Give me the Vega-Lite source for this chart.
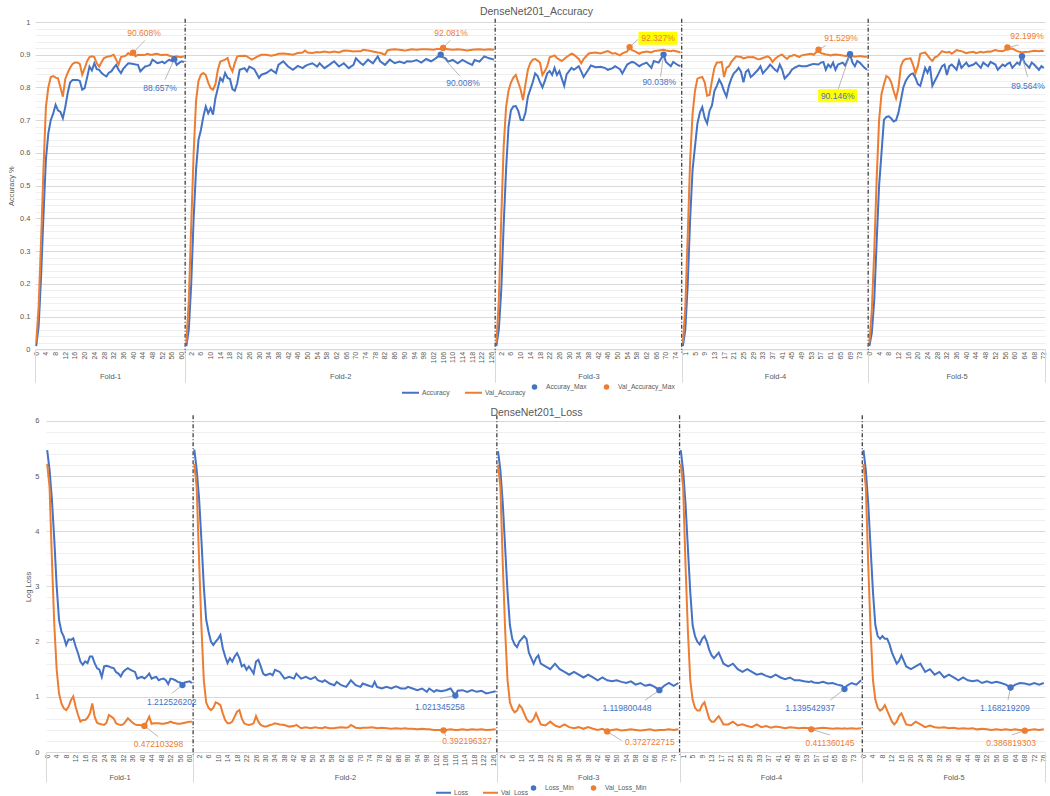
{
"$schema": "https://vega.github.io/schema/vega-lite/v6.json",
"width": 1010, "height": 730,
"autosize": {"type": "none"},
"padding": {"left": 35, "top": 22, "right": 5, "bottom": 44},
"background": "white",
"config": {"view": {"stroke": null}, "font": "Liberation Sans", "axis": {"labelColor": "#595959", "titleColor": "#595959", "titleFontWeight": "normal", "labelFont": "Liberation Sans", "titleFont": "Liberation Sans"}, "text": {"font": "Liberation Sans"}, "legend": {"labelFont": "Liberation Sans", "labelFontSize": 6.7, "labelColor": "#595959", "padding": 0, "title": null}},
"datasets": {
"accBounds": [{"b": 61.5}, {"b": 189.5}, {"b": 266.5}, {"b": 343.5}],
"acc": [
{"f":1,"i":0,"a":0.01,"va":0.02},{"f":1,"i":1,"a":0.07,"va":0.13},{"f":1,"i":2,"a":0.22,"va":0.33},{"f":1,"i":3,"a":0.41,"va":0.55},{"f":1,"i":4,"a":0.58,"va":0.74},{"f":1,"i":5,"a":0.66,"va":0.8},{"f":1,"i":6,"a":0.7,"va":0.832},{"f":1,"i":7,"a":0.72,"va":0.835},{"f":1,"i":8,"a":0.747,"va":0.83},{"f":1,"i":9,"a":0.73,"va":0.828},{"f":1,"i":10,"a":0.725,"va":0.8},{"f":1,"i":11,"a":0.706,"va":0.772},{"f":1,"i":12,"a":0.74,"va":0.826},{"f":1,"i":13,"a":0.783,"va":0.845},{"f":1,"i":14,"a":0.815,"va":0.86},{"f":1,"i":15,"a":0.823,"va":0.872},{"f":1,"i":16,"a":0.823,"va":0.876},{"f":1,"i":17,"a":0.823,"va":0.876},{"f":1,"i":18,"a":0.82,"va":0.872},{"f":1,"i":19,"a":0.793,"va":0.839},{"f":1,"i":20,"a":0.798,"va":0.858},{"f":1,"i":21,"a":0.83,"va":0.88},{"f":1,"i":22,"a":0.864,"va":0.893},{"f":1,"i":23,"a":0.852,"va":0.895},{"f":1,"i":24,"a":0.874,"va":0.893},{"f":1,"i":25,"a":0.856,"va":0.874},{"f":1,"i":26,"a":0.854,"va":0.864},{"f":1,"i":27,"a":0.844,"va":0.878},{"f":1,"i":28,"a":0.838,"va":0.89},{"f":1,"i":29,"a":0.834,"va":0.893},{"f":1,"i":30,"a":0.845,"va":0.895},{"f":1,"i":31,"a":0.849,"va":0.897},{"f":1,"i":32,"a":0.86,"va":0.9},{"f":1,"i":33,"a":0.869,"va":0.885},{"f":1,"i":34,"a":0.854,"va":0.87},{"f":1,"i":35,"a":0.844,"va":0.893},{"f":1,"i":36,"a":0.858,"va":0.895},{"f":1,"i":37,"a":0.866,"va":0.897},{"f":1,"i":38,"a":0.874,"va":0.905},{"f":1,"i":39,"a":0.873,"va":0.9},{"f":1,"i":40,"a":0.872,"va":0.90608},{"f":1,"i":41,"a":0.87,"va":0.895},{"f":1,"i":42,"a":0.869,"va":0.9},{"f":1,"i":43,"a":0.849,"va":0.899},{"f":1,"i":44,"a":0.857,"va":0.899},{"f":1,"i":45,"a":0.864,"va":0.9},{"f":1,"i":46,"a":0.866,"va":0.903},{"f":1,"i":47,"a":0.869,"va":0.9},{"f":1,"i":48,"a":0.885,"va":0.9},{"f":1,"i":49,"a":0.88,"va":0.902},{"f":1,"i":50,"a":0.874,"va":0.903},{"f":1,"i":51,"a":0.876,"va":0.9},{"f":1,"i":52,"a":0.879,"va":0.899},{"f":1,"i":53,"a":0.874,"va":0.9},{"f":1,"i":54,"a":0.88,"va":0.9},{"f":1,"i":55,"a":0.885,"va":0.897},{"f":1,"i":56,"a":0.88,"va":0.895},{"f":1,"i":57,"a":0.88657,"va":0.894},{"f":1,"i":58,"a":0.869,"va":0.895},{"f":1,"i":59,"a":0.875,"va":0.893},{"f":1,"i":60,"a":0.88,"va":0.893},{"f":1,"i":61,"a":0.878,"va":0.895},
{"f":2,"i":62,"a":0.01,"va":0.02},{"f":2,"i":63,"a":0.06,"va":0.15},{"f":2,"i":64,"a":0.2,"va":0.38},{"f":2,"i":65,"a":0.4,"va":0.6},{"f":2,"i":66,"a":0.55,"va":0.76},{"f":2,"i":67,"a":0.64,"va":0.82},{"f":2,"i":68,"a":0.67,"va":0.839},{"f":2,"i":69,"a":0.711,"va":0.844},{"f":2,"i":70,"a":0.742,"va":0.838},{"f":2,"i":71,"a":0.721,"va":0.815},{"f":2,"i":72,"a":0.737,"va":0.798},{"f":2,"i":73,"a":0.717,"va":0.793},{"f":2,"i":74,"a":0.768,"va":0.81},{"f":2,"i":75,"a":0.798,"va":0.854},{"f":2,"i":76,"a":0.829,"va":0.879},{"f":2,"i":77,"a":0.819,"va":0.882},{"f":2,"i":78,"a":0.844,"va":0.885},{"f":2,"i":79,"a":0.829,"va":0.89},{"f":2,"i":80,"a":0.826,"va":0.864},{"f":2,"i":81,"a":0.795,"va":0.849},{"f":2,"i":82,"a":0.79,"va":0.875},{"f":2,"i":83,"a":0.813,"va":0.895},{"f":2,"i":84,"a":0.854,"va":0.896},{"f":2,"i":86,"a":0.859,"va":0.897},{"f":2,"i":87,"a":0.849,"va":0.895},{"f":2,"i":88,"a":0.864,"va":0.89},{"f":2,"i":89,"a":0.86,"va":0.885},{"f":2,"i":90,"a":0.856,"va":0.889},{"f":2,"i":92,"a":0.829,"va":0.897},{"f":2,"i":93,"a":0.839,"va":0.9},{"f":2,"i":95,"a":0.844,"va":0.9},{"f":2,"i":97,"a":0.854,"va":0.897},{"f":2,"i":99,"a":0.844,"va":0.9},{"f":2,"i":100,"a":0.869,"va":0.903},{"f":2,"i":102,"a":0.88,"va":0.904},{"f":2,"i":104,"a":0.864,"va":0.902},{"f":2,"i":106,"a":0.854,"va":0.9},{"f":2,"i":108,"a":0.866,"va":0.905},{"f":2,"i":110,"a":0.859,"va":0.907},{"f":2,"i":111,"a":0.865,"va":0.913},{"f":2,"i":112,"a":0.869,"va":0.907},{"f":2,"i":114,"a":0.874,"va":0.905},{"f":2,"i":116,"a":0.864,"va":0.908},{"f":2,"i":117,"a":0.874,"va":0.907},{"f":2,"i":119,"a":0.859,"va":0.91},{"f":2,"i":121,"a":0.869,"va":0.907},{"f":2,"i":123,"a":0.88,"va":0.91},{"f":2,"i":125,"a":0.864,"va":0.907},{"f":2,"i":127,"a":0.874,"va":0.913},{"f":2,"i":129,"a":0.859,"va":0.912},{"f":2,"i":131,"a":0.869,"va":0.91},{"f":2,"i":132,"a":0.889,"va":0.911},{"f":2,"i":134,"a":0.874,"va":0.911},{"f":2,"i":135,"a":0.869,"va":0.915},{"f":2,"i":137,"a":0.885,"va":0.913},{"f":2,"i":139,"a":0.874,"va":0.91},{"f":2,"i":141,"a":0.895,"va":0.907},{"f":2,"i":142,"a":0.88,"va":0.906},{"f":2,"i":144,"a":0.869,"va":0.9},{"f":2,"i":145,"a":0.877,"va":0.913},{"f":2,"i":146,"a":0.885,"va":0.915},{"f":2,"i":148,"a":0.874,"va":0.917},{"f":2,"i":150,"a":0.879,"va":0.915},{"f":2,"i":152,"a":0.874,"va":0.913},{"f":2,"i":153,"a":0.88,"va":0.914},{"f":2,"i":155,"a":0.879,"va":0.917},{"f":2,"i":157,"a":0.884,"va":0.915},{"f":2,"i":159,"a":0.876,"va":0.917},{"f":2,"i":161,"a":0.887,"va":0.917},{"f":2,"i":163,"a":0.88,"va":0.916},{"f":2,"i":164,"a":0.884,"va":0.915},{"f":2,"i":166,"a":0.895,"va":0.918},{"f":2,"i":167,"a":0.90008,"va":0.917},{"f":2,"i":168,"a":0.892,"va":0.92081},{"f":2,"i":169,"a":0.889,"va":0.918},{"f":2,"i":170,"a":0.879,"va":0.917},{"f":2,"i":172,"a":0.884,"va":0.915},{"f":2,"i":174,"a":0.874,"va":0.917},{"f":2,"i":176,"a":0.884,"va":0.915},{"f":2,"i":178,"a":0.876,"va":0.913},{"f":2,"i":180,"a":0.869,"va":0.915},{"f":2,"i":181,"a":0.884,"va":0.916},{"f":2,"i":183,"a":0.879,"va":0.917},{"f":2,"i":185,"a":0.895,"va":0.915},{"f":2,"i":187,"a":0.889,"va":0.917},{"f":2,"i":189,"a":0.885,"va":0.915},
{"f":3,"i":190,"a":0.01,"va":0.02},{"f":3,"i":191,"a":0.06,"va":0.15},{"f":3,"i":192,"a":0.18,"va":0.4},{"f":3,"i":193,"a":0.38,"va":0.62},{"f":3,"i":194,"a":0.55,"va":0.74},{"f":3,"i":195,"a":0.68,"va":0.79},{"f":3,"i":196,"a":0.73,"va":0.815},{"f":3,"i":197,"a":0.742,"va":0.83},{"f":3,"i":198,"a":0.743,"va":0.838},{"f":3,"i":199,"a":0.729,"va":0.816},{"f":3,"i":200,"a":0.701,"va":0.794},{"f":3,"i":201,"a":0.7,"va":0.761},{"f":3,"i":202,"a":0.723,"va":0.81},{"f":3,"i":203,"a":0.772,"va":0.854},{"f":3,"i":204,"a":0.794,"va":0.875},{"f":3,"i":205,"a":0.816,"va":0.885},{"f":3,"i":206,"a":0.843,"va":0.887},{"f":3,"i":207,"a":0.835,"va":0.882},{"f":3,"i":208,"a":0.816,"va":0.876},{"f":3,"i":209,"a":0.8,"va":0.838},{"f":3,"i":210,"a":0.82,"va":0.85},{"f":3,"i":211,"a":0.843,"va":0.865},{"f":3,"i":212,"a":0.85,"va":0.892},{"f":3,"i":213,"a":0.838,"va":0.895},{"f":3,"i":214,"a":0.86,"va":0.898},{"f":3,"i":215,"a":0.838,"va":0.89},{"f":3,"i":216,"a":0.85,"va":0.885},{"f":3,"i":217,"a":0.827,"va":0.881},{"f":3,"i":218,"a":0.805,"va":0.887},{"f":3,"i":219,"a":0.84,"va":0.893},{"f":3,"i":221,"a":0.86,"va":0.903},{"f":3,"i":222,"a":0.854,"va":0.9},{"f":3,"i":224,"a":0.865,"va":0.887},{"f":3,"i":225,"a":0.849,"va":0.874},{"f":3,"i":226,"a":0.832,"va":0.887},{"f":3,"i":228,"a":0.855,"va":0.903},{"f":3,"i":229,"a":0.867,"va":0.905},{"f":3,"i":231,"a":0.862,"va":0.907},{"f":3,"i":233,"a":0.863,"va":0.904},{"f":3,"i":235,"a":0.859,"va":0.909},{"f":3,"i":236,"a":0.854,"va":0.911},{"f":3,"i":238,"a":0.859,"va":0.903},{"f":3,"i":239,"a":0.865,"va":0.905},{"f":3,"i":241,"a":0.856,"va":0.898},{"f":3,"i":242,"a":0.843,"va":0.904},{"f":3,"i":244,"a":0.87,"va":0.91},{"f":3,"i":245,"a":0.874,"va":0.92327},{"f":3,"i":246,"a":0.878,"va":0.914},{"f":3,"i":247,"a":0.876,"va":0.911},{"f":3,"i":249,"a":0.865,"va":0.903},{"f":3,"i":250,"a":0.87,"va":0.907},{"f":3,"i":252,"a":0.876,"va":0.91},{"f":3,"i":254,"a":0.86,"va":0.907},{"f":3,"i":255,"a":0.881,"va":0.911},{"f":3,"i":257,"a":0.876,"va":0.913},{"f":3,"i":259,"a":0.90038,"va":0.915},{"f":3,"i":260,"a":0.878,"va":0.913},{"f":3,"i":262,"a":0.865,"va":0.911},{"f":3,"i":263,"a":0.878,"va":0.913},{"f":3,"i":265,"a":0.868,"va":0.909},{"f":3,"i":266,"a":0.865,"va":0.907},
{"f":4,"i":267,"a":0.01,"va":0.02},{"f":4,"i":268,"a":0.06,"va":0.13},{"f":4,"i":269,"a":0.2,"va":0.35},{"f":4,"i":270,"a":0.4,"va":0.58},{"f":4,"i":271,"a":0.55,"va":0.72},{"f":4,"i":272,"a":0.62,"va":0.79},{"f":4,"i":273,"a":0.69,"va":0.827},{"f":4,"i":274,"a":0.723,"va":0.83},{"f":4,"i":275,"a":0.74,"va":0.832},{"f":4,"i":276,"a":0.707,"va":0.816},{"f":4,"i":277,"a":0.69,"va":0.775},{"f":4,"i":278,"a":0.729,"va":0.777},{"f":4,"i":279,"a":0.745,"va":0.821},{"f":4,"i":280,"a":0.789,"va":0.86},{"f":4,"i":281,"a":0.805,"va":0.876},{"f":4,"i":282,"a":0.824,"va":0.876},{"f":4,"i":283,"a":0.81,"va":0.878},{"f":4,"i":284,"a":0.789,"va":0.832},{"f":4,"i":285,"a":0.772,"va":0.86},{"f":4,"i":286,"a":0.805,"va":0.865},{"f":4,"i":287,"a":0.827,"va":0.878},{"f":4,"i":288,"a":0.843,"va":0.887},{"f":4,"i":289,"a":0.85,"va":0.895},{"f":4,"i":290,"a":0.86,"va":0.894},{"f":4,"i":291,"a":0.848,"va":0.893},{"f":4,"i":292,"a":0.816,"va":0.889},{"f":4,"i":293,"a":0.848,"va":0.891},{"f":4,"i":294,"a":0.854,"va":0.893},{"f":4,"i":295,"a":0.832,"va":0.892},{"f":4,"i":296,"a":0.838,"va":0.893},{"f":4,"i":298,"a":0.854,"va":0.886},{"f":4,"i":299,"a":0.865,"va":0.887},{"f":4,"i":300,"a":0.843,"va":0.89},{"f":4,"i":302,"a":0.86,"va":0.895},{"f":4,"i":303,"a":0.87,"va":0.89},{"f":4,"i":304,"a":0.862,"va":0.878},{"f":4,"i":305,"a":0.854,"va":0.887},{"f":4,"i":306,"a":0.849,"va":0.893},{"f":4,"i":307,"a":0.87,"va":0.898},{"f":4,"i":308,"a":0.854,"va":0.9},{"f":4,"i":309,"a":0.827,"va":0.893},{"f":4,"i":310,"a":0.835,"va":0.887},{"f":4,"i":311,"a":0.843,"va":0.895},{"f":4,"i":312,"a":0.854,"va":0.897},{"f":4,"i":313,"a":0.86,"va":0.9},{"f":4,"i":315,"a":0.867,"va":0.893},{"f":4,"i":316,"a":0.865,"va":0.898},{"f":4,"i":318,"a":0.865,"va":0.901},{"f":4,"i":320,"a":0.87,"va":0.903},{"f":4,"i":321,"a":0.872,"va":0.9},{"f":4,"i":323,"a":0.87,"va":0.91529},{"f":4,"i":324,"a":0.876,"va":0.905},{"f":4,"i":325,"a":0.878,"va":0.903},{"f":4,"i":326,"a":0.854,"va":0.901},{"f":4,"i":327,"a":0.87,"va":0.9},{"f":4,"i":328,"a":0.862,"va":0.898},{"f":4,"i":329,"a":0.876,"va":0.9},{"f":4,"i":330,"a":0.854,"va":0.901},{"f":4,"i":331,"a":0.87,"va":0.9},{"f":4,"i":333,"a":0.876,"va":0.898},{"f":4,"i":334,"a":0.867,"va":0.896},{"f":4,"i":336,"a":0.90146,"va":0.898},{"f":4,"i":337,"a":0.876,"va":0.896},{"f":4,"i":338,"a":0.865,"va":0.894},{"f":4,"i":339,"a":0.881,"va":0.895},{"f":4,"i":340,"a":0.876,"va":0.896},{"f":4,"i":342,"a":0.86,"va":0.894},{"f":4,"i":343,"a":0.854,"va":0.894},
{"f":5,"i":344,"a":0.01,"va":0.02},{"f":5,"i":345,"a":0.05,"va":0.12},{"f":5,"i":346,"a":0.15,"va":0.3},{"f":5,"i":347,"a":0.33,"va":0.52},{"f":5,"i":348,"a":0.5,"va":0.7},{"f":5,"i":349,"a":0.6,"va":0.78},{"f":5,"i":350,"a":0.701,"va":0.81},{"f":5,"i":351,"a":0.71,"va":0.835},{"f":5,"i":352,"a":0.712,"va":0.83},{"f":5,"i":353,"a":0.705,"va":0.816},{"f":5,"i":354,"a":0.696,"va":0.789},{"f":5,"i":355,"a":0.7,"va":0.767},{"f":5,"i":356,"a":0.723,"va":0.8},{"f":5,"i":357,"a":0.761,"va":0.865},{"f":5,"i":358,"a":0.8,"va":0.882},{"f":5,"i":359,"a":0.82,"va":0.887},{"f":5,"i":360,"a":0.832,"va":0.888},{"f":5,"i":361,"a":0.84,"va":0.889},{"f":5,"i":362,"a":0.843,"va":0.87},{"f":5,"i":363,"a":0.83,"va":0.843},{"f":5,"i":364,"a":0.81,"va":0.865},{"f":5,"i":365,"a":0.805,"va":0.903},{"f":5,"i":366,"a":0.832,"va":0.905},{"f":5,"i":367,"a":0.86,"va":0.907},{"f":5,"i":368,"a":0.845,"va":0.898},{"f":5,"i":369,"a":0.865,"va":0.888},{"f":5,"i":370,"a":0.805,"va":0.881},{"f":5,"i":371,"a":0.82,"va":0.892},{"f":5,"i":372,"a":0.834,"va":0.895},{"f":5,"i":374,"a":0.865,"va":0.911},{"f":5,"i":375,"a":0.87,"va":0.908},{"f":5,"i":376,"a":0.838,"va":0.907},{"f":5,"i":377,"a":0.865,"va":0.909},{"f":5,"i":378,"a":0.87,"va":0.903},{"f":5,"i":380,"a":0.854,"va":0.914},{"f":5,"i":381,"a":0.881,"va":0.912},{"f":5,"i":382,"a":0.86,"va":0.911},{"f":5,"i":384,"a":0.876,"va":0.905},{"f":5,"i":385,"a":0.865,"va":0.907},{"f":5,"i":387,"a":0.87,"va":0.909},{"f":5,"i":388,"a":0.876,"va":0.905},{"f":5,"i":390,"a":0.86,"va":0.909},{"f":5,"i":391,"a":0.876,"va":0.907},{"f":5,"i":393,"a":0.865,"va":0.91},{"f":5,"i":394,"a":0.878,"va":0.909},{"f":5,"i":396,"a":0.87,"va":0.914},{"f":5,"i":397,"a":0.854,"va":0.912},{"f":5,"i":399,"a":0.87,"va":0.911},{"f":5,"i":400,"a":0.865,"va":0.914},{"f":5,"i":401,"a":0.872,"va":0.92199},{"f":5,"i":402,"a":0.876,"va":0.918},{"f":5,"i":403,"a":0.86,"va":0.919},{"f":5,"i":405,"a":0.876,"va":0.911},{"f":5,"i":406,"a":0.87,"va":0.909},{"f":5,"i":407,"a":0.89564,"va":0.907},{"f":5,"i":408,"a":0.876,"va":0.908},{"f":5,"i":410,"a":0.86,"va":0.909},{"f":5,"i":411,"a":0.876,"va":0.911},{"f":5,"i":412,"a":0.87,"va":0.912},{"f":5,"i":414,"a":0.854,"va":0.911},{"f":5,"i":415,"a":0.865,"va":0.912},{"f":5,"i":416,"a":0.86,"va":0.911}
],
"accMax": [
{"i":40,"v":0.90608,"s":"Val_Accuracy_Max","t":"90.608%","li":44.5,"lv":0.967,"ei":44.9,"ev":0.944},
{"i":57,"v":0.88657,"s":"Accuray_Max","t":"88.657%","li":51.1,"lv":0.799,"ei":53.2,"ev":0.824},
{"i":168,"v":0.92081,"s":"Val_Accuracy_Max","t":"92.081%","li":171.3,"lv":0.967,"ei":170.9,"ev":0.944},
{"i":167,"v":0.90008,"s":"Accuray_Max","t":"90.008%","li":176.2,"lv":0.815,"ei":175,"ev":0.834},
{"i":245,"v":0.92327,"s":"Val_Accuracy_Max","t":"92.327%","li":256.7,"lv":0.95,"ei":248.5,"ev":0.947},
{"i":259,"v":0.90038,"s":"Accuray_Max","t":"90.038%","li":257.2,"lv":0.816,"ei":257.8,"ev":0.833},
{"i":323,"v":0.91529,"s":"Val_Accuracy_Max","t":"91.529%","li":332.3,"lv":0.95,"ei":326,"ev":0.928},
{"i":336,"v":0.90146,"s":"Accuray_Max","t":"90.146%","li":330.9,"lv":0.775,"ei":331.1,"ev":0.794},
{"i":401,"v":0.92199,"s":"Val_Accuracy_Max","t":"92.199%","li":409.1,"lv":0.958,"ei":405.6,"ev":0.93},
{"i":407,"v":0.89564,"s":"Accuray_Max","t":"89.564%","li":409.5,"lv":0.803,"ei":409.3,"ev":0.833}
],
"lossBounds": [{"b": 61.5}, {"b": 189.5}, {"b": 266.5}, {"b": 343.5}],
"loss": [
{"f":1,"i":0,"l":5.47,"vl":5.22},{"f":1,"i":1,"l":5.11,"vl":4.8},{"f":1,"i":2,"l":4.57,"vl":3.48},{"f":1,"i":3,"l":3.84,"vl":2.3},{"f":1,"i":4,"l":3.0,"vl":1.49},{"f":1,"i":5,"l":2.39,"vl":1.06},{"f":1,"i":6,"l":2.18,"vl":0.88},{"f":1,"i":7,"l":2.09,"vl":0.79},{"f":1,"i":8,"l":1.94,"vl":0.76},{"f":1,"i":9,"l":2.04,"vl":0.82},{"f":1,"i":10,"l":2.03,"vl":0.94},{"f":1,"i":11,"l":2.06,"vl":1.01},{"f":1,"i":12,"l":1.91,"vl":0.82},{"f":1,"i":13,"l":1.79,"vl":0.67},{"f":1,"i":14,"l":1.64,"vl":0.55},{"f":1,"i":15,"l":1.58,"vl":0.58},{"f":1,"i":16,"l":1.64,"vl":0.58},{"f":1,"i":17,"l":1.61,"vl":0.62},{"f":1,"i":18,"l":1.73,"vl":0.7},{"f":1,"i":19,"l":1.73,"vl":0.88},{"f":1,"i":20,"l":1.61,"vl":0.64},{"f":1,"i":21,"l":1.52,"vl":0.53},{"f":1,"i":22,"l":1.49,"vl":0.51},{"f":1,"i":23,"l":1.36,"vl":0.5},{"f":1,"i":24,"l":1.55,"vl":0.49},{"f":1,"i":25,"l":1.56,"vl":0.53},{"f":1,"i":26,"l":1.55,"vl":0.67},{"f":1,"i":27,"l":1.53,"vl":0.64},{"f":1,"i":28,"l":1.52,"vl":0.61},{"f":1,"i":29,"l":1.45,"vl":0.52},{"f":1,"i":30,"l":1.42,"vl":0.5},{"f":1,"i":31,"l":1.37,"vl":0.49},{"f":1,"i":32,"l":1.45,"vl":0.5},{"f":1,"i":33,"l":1.49,"vl":0.55},{"f":1,"i":34,"l":1.52,"vl":0.61},{"f":1,"i":35,"l":1.49,"vl":0.57},{"f":1,"i":36,"l":1.47,"vl":0.53},{"f":1,"i":37,"l":1.45,"vl":0.5},{"f":1,"i":38,"l":1.33,"vl":0.49},{"f":1,"i":39,"l":1.35,"vl":0.49},{"f":1,"i":40,"l":1.36,"vl":0.48},{"f":1,"i":41,"l":1.33,"vl":0.472103298},{"f":1,"i":42,"l":1.37,"vl":0.55},{"f":1,"i":43,"l":1.42,"vl":0.64},{"f":1,"i":44,"l":1.33,"vl":0.51},{"f":1,"i":45,"l":1.35,"vl":0.52},{"f":1,"i":46,"l":1.36,"vl":0.52},{"f":1,"i":47,"l":1.3,"vl":0.52},{"f":1,"i":48,"l":1.32,"vl":0.51},{"f":1,"i":49,"l":1.33,"vl":0.51},{"f":1,"i":50,"l":1.3,"vl":0.52},{"f":1,"i":51,"l":1.23,"vl":0.53},{"f":1,"i":52,"l":1.33,"vl":0.55},{"f":1,"i":53,"l":1.32,"vl":0.53},{"f":1,"i":54,"l":1.3,"vl":0.52},{"f":1,"i":55,"l":1.27,"vl":0.51},{"f":1,"i":56,"l":1.26,"vl":0.51},{"f":1,"i":57,"l":1.212526202,"vl":0.52},{"f":1,"i":58,"l":1.26,"vl":0.53},{"f":1,"i":59,"l":1.27,"vl":0.54},{"f":1,"i":60,"l":1.28,"vl":0.55},{"f":1,"i":61,"l":1.25,"vl":0.55},
{"f":2,"i":62,"l":5.48,"vl":5.22},{"f":2,"i":63,"l":5.11,"vl":4.8},{"f":2,"i":64,"l":4.6,"vl":3.5},{"f":2,"i":65,"l":3.84,"vl":2.27},{"f":2,"i":66,"l":3.0,"vl":1.3},{"f":2,"i":67,"l":2.4,"vl":0.9},{"f":2,"i":68,"l":2.18,"vl":0.8},{"f":2,"i":69,"l":2.0,"vl":0.76},{"f":2,"i":70,"l":1.94,"vl":0.8},{"f":2,"i":71,"l":2.0,"vl":0.9},{"f":2,"i":72,"l":2.05,"vl":0.88},{"f":2,"i":73,"l":2.12,"vl":0.85},{"f":2,"i":74,"l":1.88,"vl":0.7},{"f":2,"i":75,"l":1.73,"vl":0.58},{"f":2,"i":76,"l":1.61,"vl":0.52},{"f":2,"i":77,"l":1.7,"vl":0.52},{"f":2,"i":78,"l":1.64,"vl":0.55},{"f":2,"i":79,"l":1.73,"vl":0.64},{"f":2,"i":80,"l":1.79,"vl":0.73},{"f":2,"i":81,"l":1.7,"vl":0.76},{"f":2,"i":82,"l":1.55,"vl":0.61},{"f":2,"i":83,"l":1.58,"vl":0.52},{"f":2,"i":84,"l":1.49,"vl":0.5},{"f":2,"i":85,"l":1.55,"vl":0.49},{"f":2,"i":86,"l":1.49,"vl":0.5},{"f":2,"i":87,"l":1.42,"vl":0.52},{"f":2,"i":88,"l":1.64,"vl":0.65},{"f":2,"i":89,"l":1.67,"vl":0.55},{"f":2,"i":90,"l":1.55,"vl":0.49},{"f":2,"i":91,"l":1.42,"vl":0.47},{"f":2,"i":92,"l":1.39,"vl":0.46},{"f":2,"i":94,"l":1.42,"vl":0.49},{"f":2,"i":95,"l":1.39,"vl":0.5},{"f":2,"i":96,"l":1.49,"vl":0.52},{"f":2,"i":98,"l":1.45,"vl":0.5},{"f":2,"i":100,"l":1.33,"vl":0.49},{"f":2,"i":102,"l":1.36,"vl":0.46},{"f":2,"i":104,"l":1.33,"vl":0.47},{"f":2,"i":105,"l":1.42,"vl":0.49},{"f":2,"i":107,"l":1.33,"vl":0.43},{"f":2,"i":109,"l":1.36,"vl":0.45},{"f":2,"i":111,"l":1.32,"vl":0.43},{"f":2,"i":113,"l":1.36,"vl":0.45},{"f":2,"i":114,"l":1.3,"vl":0.44},{"f":2,"i":116,"l":1.27,"vl":0.43},{"f":2,"i":117,"l":1.3,"vl":0.45},{"f":2,"i":119,"l":1.24,"vl":0.43},{"f":2,"i":121,"l":1.21,"vl":0.43},{"f":2,"i":122,"l":1.27,"vl":0.44},{"f":2,"i":124,"l":1.21,"vl":0.45},{"f":2,"i":126,"l":1.18,"vl":0.44},{"f":2,"i":127,"l":1.24,"vl":0.45},{"f":2,"i":128,"l":1.3,"vl":0.49},{"f":2,"i":130,"l":1.21,"vl":0.44},{"f":2,"i":132,"l":1.18,"vl":0.43},{"f":2,"i":133,"l":1.24,"vl":0.44},{"f":2,"i":135,"l":1.21,"vl":0.44},{"f":2,"i":137,"l":1.18,"vl":0.45},{"f":2,"i":138,"l":1.27,"vl":0.44},{"f":2,"i":139,"l":1.18,"vl":0.43},{"f":2,"i":141,"l":1.15,"vl":0.44},{"f":2,"i":143,"l":1.18,"vl":0.43},{"f":2,"i":145,"l":1.15,"vl":0.42},{"f":2,"i":147,"l":1.19,"vl":0.43},{"f":2,"i":149,"l":1.15,"vl":0.42},{"f":2,"i":151,"l":1.15,"vl":0.43},{"f":2,"i":152,"l":1.18,"vl":0.42},{"f":2,"i":154,"l":1.15,"vl":0.42},{"f":2,"i":156,"l":1.12,"vl":0.41},{"f":2,"i":158,"l":1.15,"vl":0.42},{"f":2,"i":160,"l":1.09,"vl":0.41},{"f":2,"i":161,"l":1.15,"vl":0.41},{"f":2,"i":163,"l":1.09,"vl":0.4},{"f":2,"i":164,"l":1.12,"vl":0.4},{"f":2,"i":166,"l":1.1,"vl":0.4},{"f":2,"i":167,"l":1.11,"vl":0.392196327},{"f":2,"i":168,"l":1.12,"vl":0.4},{"f":2,"i":170,"l":1.15,"vl":0.41},{"f":2,"i":172,"l":1.021345258,"vl":0.4},{"f":2,"i":173,"l":1.11,"vl":0.4},{"f":2,"i":175,"l":1.12,"vl":0.41},{"f":2,"i":177,"l":1.09,"vl":0.4},{"f":2,"i":179,"l":1.12,"vl":0.41},{"f":2,"i":181,"l":1.09,"vl":0.405},{"f":2,"i":183,"l":1.11,"vl":0.41},{"f":2,"i":185,"l":1.06,"vl":0.4},{"f":2,"i":187,"l":1.08,"vl":0.405},{"f":2,"i":189,"l":1.1,"vl":0.41},
{"f":3,"i":190,"l":5.45,"vl":5.2},{"f":3,"i":191,"l":5.1,"vl":4.8},{"f":3,"i":192,"l":4.5,"vl":3.4},{"f":3,"i":193,"l":3.7,"vl":2.2},{"f":3,"i":194,"l":2.9,"vl":1.3},{"f":3,"i":195,"l":2.3,"vl":0.9},{"f":3,"i":196,"l":2.05,"vl":0.78},{"f":3,"i":197,"l":1.95,"vl":0.72},{"f":3,"i":198,"l":1.9,"vl":0.75},{"f":3,"i":199,"l":2.0,"vl":0.85},{"f":3,"i":200,"l":2.05,"vl":0.8},{"f":3,"i":201,"l":2.1,"vl":0.7},{"f":3,"i":202,"l":2.05,"vl":0.6},{"f":3,"i":203,"l":1.8,"vl":0.55},{"f":3,"i":204,"l":1.7,"vl":0.55},{"f":3,"i":205,"l":1.6,"vl":0.6},{"f":3,"i":206,"l":1.7,"vl":0.7},{"f":3,"i":207,"l":1.75,"vl":0.6},{"f":3,"i":208,"l":1.6,"vl":0.5},{"f":3,"i":210,"l":1.55,"vl":0.48},{"f":3,"i":212,"l":1.5,"vl":0.55},{"f":3,"i":214,"l":1.6,"vl":0.48},{"f":3,"i":216,"l":1.5,"vl":0.45},{"f":3,"i":218,"l":1.45,"vl":0.5},{"f":3,"i":220,"l":1.4,"vl":0.45},{"f":3,"i":222,"l":1.45,"vl":0.43},{"f":3,"i":224,"l":1.4,"vl":0.45},{"f":3,"i":226,"l":1.35,"vl":0.42},{"f":3,"i":228,"l":1.4,"vl":0.45},{"f":3,"i":230,"l":1.35,"vl":0.42},{"f":3,"i":232,"l":1.3,"vl":0.4},{"f":3,"i":234,"l":1.35,"vl":0.42},{"f":3,"i":236,"l":1.3,"vl":0.372722715},{"f":3,"i":238,"l":1.28,"vl":0.4},{"f":3,"i":240,"l":1.3,"vl":0.41},{"f":3,"i":242,"l":1.27,"vl":0.39},{"f":3,"i":244,"l":1.25,"vl":0.4},{"f":3,"i":246,"l":1.28,"vl":0.41},{"f":3,"i":248,"l":1.22,"vl":0.4},{"f":3,"i":250,"l":1.25,"vl":0.39},{"f":3,"i":252,"l":1.2,"vl":0.4},{"f":3,"i":254,"l":1.22,"vl":0.41},{"f":3,"i":256,"l":1.18,"vl":0.39},{"f":3,"i":258,"l":1.119800448,"vl":0.4},{"f":3,"i":260,"l":1.2,"vl":0.4},{"f":3,"i":262,"l":1.25,"vl":0.41},{"f":3,"i":264,"l":1.2,"vl":0.4},{"f":3,"i":266,"l":1.25,"vl":0.41},
{"f":4,"i":267,"l":5.47,"vl":5.22},{"f":4,"i":268,"l":5.1,"vl":4.8},{"f":4,"i":269,"l":4.5,"vl":3.4},{"f":4,"i":270,"l":3.7,"vl":2.2},{"f":4,"i":271,"l":2.9,"vl":1.3},{"f":4,"i":272,"l":2.3,"vl":0.95},{"f":4,"i":273,"l":2.1,"vl":0.8},{"f":4,"i":274,"l":2.0,"vl":0.75},{"f":4,"i":275,"l":1.95,"vl":0.75},{"f":4,"i":276,"l":2.05,"vl":0.85},{"f":4,"i":277,"l":2.1,"vl":0.9},{"f":4,"i":278,"l":2.0,"vl":0.75},{"f":4,"i":279,"l":1.85,"vl":0.6},{"f":4,"i":280,"l":1.75,"vl":0.55},{"f":4,"i":281,"l":1.7,"vl":0.55},{"f":4,"i":282,"l":1.75,"vl":0.6},{"f":4,"i":283,"l":1.8,"vl":0.65},{"f":4,"i":284,"l":1.7,"vl":0.58},{"f":4,"i":285,"l":1.6,"vl":0.5},{"f":4,"i":287,"l":1.55,"vl":0.5},{"f":4,"i":289,"l":1.6,"vl":0.55},{"f":4,"i":291,"l":1.5,"vl":0.48},{"f":4,"i":293,"l":1.45,"vl":0.5},{"f":4,"i":295,"l":1.5,"vl":0.47},{"f":4,"i":297,"l":1.45,"vl":0.45},{"f":4,"i":299,"l":1.4,"vl":0.5},{"f":4,"i":301,"l":1.42,"vl":0.45},{"f":4,"i":303,"l":1.38,"vl":0.47},{"f":4,"i":305,"l":1.35,"vl":0.44},{"f":4,"i":307,"l":1.4,"vl":0.46},{"f":4,"i":309,"l":1.35,"vl":0.45},{"f":4,"i":311,"l":1.32,"vl":0.43},{"f":4,"i":313,"l":1.35,"vl":0.45},{"f":4,"i":315,"l":1.3,"vl":0.44},{"f":4,"i":317,"l":1.3,"vl":0.43},{"f":4,"i":319,"l":1.28,"vl":0.44},{"f":4,"i":321,"l":1.27,"vl":0.43},{"f":4,"i":322,"l":1.28,"vl":0.411360145},{"f":4,"i":323,"l":1.26,"vl":0.42},{"f":4,"i":325,"l":1.25,"vl":0.43},{"f":4,"i":327,"l":1.27,"vl":0.44},{"f":4,"i":329,"l":1.24,"vl":0.43},{"f":4,"i":331,"l":1.25,"vl":0.42},{"f":4,"i":333,"l":1.22,"vl":0.43},{"f":4,"i":335,"l":1.2,"vl":0.42},{"f":4,"i":336,"l":1.139542937,"vl":0.43},{"f":4,"i":337,"l":1.2,"vl":0.42},{"f":4,"i":339,"l":1.25,"vl":0.43},{"f":4,"i":341,"l":1.22,"vl":0.42},{"f":4,"i":343,"l":1.3,"vl":0.43},
{"f":5,"i":344,"l":5.47,"vl":5.22},{"f":5,"i":345,"l":5.1,"vl":4.8},{"f":5,"i":346,"l":4.5,"vl":3.4},{"f":5,"i":347,"l":3.7,"vl":2.2},{"f":5,"i":348,"l":2.9,"vl":1.3},{"f":5,"i":349,"l":2.3,"vl":0.95},{"f":5,"i":350,"l":2.1,"vl":0.8},{"f":5,"i":351,"l":2.05,"vl":0.75},{"f":5,"i":352,"l":2.1,"vl":0.78},{"f":5,"i":353,"l":2.05,"vl":0.85},{"f":5,"i":354,"l":2.05,"vl":0.75},{"f":5,"i":355,"l":1.95,"vl":0.65},{"f":5,"i":356,"l":1.8,"vl":0.55},{"f":5,"i":357,"l":1.7,"vl":0.5},{"f":5,"i":358,"l":1.6,"vl":0.55},{"f":5,"i":359,"l":1.65,"vl":0.65},{"f":5,"i":360,"l":1.75,"vl":0.7},{"f":5,"i":361,"l":1.65,"vl":0.6},{"f":5,"i":362,"l":1.55,"vl":0.5},{"f":5,"i":364,"l":1.5,"vl":0.48},{"f":5,"i":366,"l":1.55,"vl":0.55},{"f":5,"i":368,"l":1.6,"vl":0.5},{"f":5,"i":370,"l":1.45,"vl":0.45},{"f":5,"i":372,"l":1.5,"vl":0.48},{"f":5,"i":374,"l":1.4,"vl":0.45},{"f":5,"i":376,"l":1.45,"vl":0.44},{"f":5,"i":378,"l":1.35,"vl":0.45},{"f":5,"i":380,"l":1.4,"vl":0.43},{"f":5,"i":382,"l":1.35,"vl":0.44},{"f":5,"i":384,"l":1.3,"vl":0.42},{"f":5,"i":386,"l":1.35,"vl":0.43},{"f":5,"i":388,"l":1.3,"vl":0.42},{"f":5,"i":390,"l":1.28,"vl":0.43},{"f":5,"i":392,"l":1.3,"vl":0.41},{"f":5,"i":394,"l":1.25,"vl":0.42},{"f":5,"i":396,"l":1.28,"vl":0.41},{"f":5,"i":398,"l":1.25,"vl":0.4},{"f":5,"i":400,"l":1.27,"vl":0.41},{"f":5,"i":402,"l":1.25,"vl":0.4},{"f":5,"i":404,"l":1.22,"vl":0.41},{"f":5,"i":406,"l":1.168219209,"vl":0.4},{"f":5,"i":408,"l":1.22,"vl":0.41},{"f":5,"i":410,"l":1.25,"vl":0.4},{"f":5,"i":412,"l":1.24,"vl":0.386819303},{"f":5,"i":414,"l":1.22,"vl":0.4},{"f":5,"i":416,"l":1.25,"vl":0.41},{"f":5,"i":418,"l":1.22,"vl":0.4},{"f":5,"i":420,"l":1.25,"vl":0.41}
],
"lossMin": [
{"i":57,"v":1.212526202,"s":"Loss_Min","t":"1.212526202","li":52.5,"lv":0.911,"ei":52.5,"ev":1.063},
{"i":41,"v":0.472103298,"s":"Val_Loss_Min","t":"0.472103298","li":46.9,"lv":0.139,"ei":46.8,"ev":0.277},
{"i":172,"v":1.021345258,"s":"Loss_Min","t":"1.021345258","li":165.5,"lv":0.81,"ei":165.5,"ev":0.973},
{"i":167,"v":0.392196327,"s":"Val_Loss_Min","t":"0.392196327","li":176.9,"lv":0.205,"ei":168,"ev":0.29},
{"i":258,"v":1.119800448,"s":"Loss_Min","t":"1.119800448","li":244.3,"lv":0.797,"ei":252,"ev":0.94},
{"i":236,"v":0.372722715,"s":"Val_Loss_Min","t":"0.372722715","li":254,"lv":0.187,"ei":242.1,"ev":0.205},
{"i":336,"v":1.139542937,"s":"Loss_Min","t":"1.139542937","li":321.5,"lv":0.797,"ei":330,"ev":0.94},
{"i":322,"v":0.411360145,"s":"Val_Loss_Min","t":"0.411360145","li":329.9,"lv":0.172,"ei":329.9,"ev":0.308},
{"i":406,"v":1.168219209,"s":"Loss_Min","t":"1.168219209","li":403.6,"lv":0.797,"ei":404.9,"ev":0.94},
{"i":412,"v":0.386819303,"s":"Val_Loss_Min","t":"0.386819303","li":406.2,"lv":0.172,"ei":406.5,"ev":0.308}
]
},
"resolve": {"scale": {"x": "independent", "y": "independent", "color": "independent"}, "axis": {"x": "independent", "y": "independent"}, "legend": {"color": "independent"}},
"layer": [
{
"data": {"name": "accBounds"},
"mark": {"type": "rule", "color": "#404040", "strokeWidth": 1.3, "strokeDash": [4, 2, 1, 2]},
"encoding": {
"x": {"field": "b", "type": "quantitative", "scale": {"type": "linear", "domain": [-0.5, 416.5], "range": [0, 1010], "nice": false, "zero": false},
 "axis": {"orient": "bottom", "offset": -402.7, "values": [30.5, 125.5, 228, 305, 380], "labelExpr": "datum.value < 62 ? 'Fold-1' : datum.value < 190 ? 'Fold-2' : datum.value < 267 ? 'Fold-3' : datum.value < 344 ? 'Fold-4' : 'Fold-5'", "ticks": false, "domain": false, "grid": false, "labelPadding": 23, "labelFontSize": 7.5, "labelAngle": 0, "labelBaseline": "top", "labelOverlap": false, "labelBound": false, "labelFlush": false, "title": null}},
"y": {"datum": 1.01, "type": "quantitative", "scale": {"type": "linear", "domain": [0, 1], "range": [327.3, 0], "nice": false, "zero": false},
 "axis": {"orient": "left", "values": [0.02,0.04,0.06,0.08,0.12,0.14,0.16,0.18,0.22,0.24,0.26,0.28,0.32,0.34,0.36,0.38,0.42,0.44,0.46,0.48,0.52,0.54,0.56,0.58,0.62,0.64,0.66,0.68,0.72,0.74,0.76,0.78,0.82,0.84,0.86,0.88,0.92,0.94,0.96,0.98], "grid": true, "gridColor": "#EFEFEF", "gridWidth": 1, "labels": false, "ticks": false, "domain": false, "title": null}},
"y2": {"datum": -0.01}
}
},
{
"data": {"name": "acc"},
"transform": [{"fold": ["a", "va"], "as": ["s", "v"]}],
"mark": {"type": "line", "strokeWidth": 2},
"encoding": {
"x": {"field": "i", "type": "quantitative", "scale": {"type": "linear", "domain": [-0.5, 416.5], "range": [0, 1010], "nice": false, "zero": false},
 "axis": {"orient": "bottom", "offset": -402.7, "values": [0,4,8,12,16,20,24,28,32,36,40,44,48,52,56,60,64,68,72,76,80,84,88,92,96,100,104,108,112,116,120,124,128,132,136,140,144,148,152,156,160,164,168,172,176,180,184,188,192,196,200,204,208,212,216,220,224,228,232,236,240,244,248,252,256,260,264,268,272,276,280,284,288,292,296,300,304,308,312,316,320,324,328,332,336,340,344,348,352,356,360,364,368,372,376,380,384,388,392,396,400,404,408,412,416], "labelExpr": "datum.value >= 344 ? datum.value - 344 : datum.value >= 267 ? datum.value - 267 : datum.value >= 190 ? datum.value - 190 : datum.value >= 62 ? datum.value - 62 : datum.value", "labelAngle": 270, "labelFontSize": 7, "labelPadding": 2, "ticks": false, "domain": true, "domainColor": "#D9D9D9", "grid": false, "labelOverlap": false, "labelBound": false, "labelFlush": false, "title": null}},
"y": {"field": "v", "type": "quantitative", "scale": {"type": "linear", "domain": [0, 1], "range": [327.3, 0], "nice": false, "zero": false},
 "axis": {"orient": "left", "values": [0,0.1,0.2,0.3,0.4,0.5,0.6,0.7,0.8,0.9,1], "format": "~g", "grid": true, "gridColor": "#D9D9D9", "ticks": false, "domain": false, "labelFontSize": 7.5, "labelPadding": 5, "title": "Accuracy %", "titleFontSize": 7.5, "titlePadding": 4}},
"color": {"field": "s", "type": "nominal", "scale": {"domain": ["a", "va"], "range": ["#4472C4", "#ED7D31"]},
 "legend": {"orient": "none", "legendX": 366, "legendY": 361, "direction": "horizontal", "columns": 2, "symbolType": "stroke", "symbolSize": 289, "symbolStrokeWidth": 2, "columnPadding": 11, "labelOffset": 2, "labelExpr": "datum.label == 'a' ? 'Accuracy' : 'Val_Accuracy'"}},
"detail": {"field": "f", "type": "nominal"}
}
},
{
"data": {"name": "accMax"},
"mark": {"type": "rule", "color": "#A6A6A6", "strokeWidth": 0.8},
"encoding": {
"x": {"field": "i", "type": "quantitative", "scale": {"type": "linear", "domain": [-0.5, 416.5], "range": [0, 1010], "nice": false, "zero": false},
 "axis": {"orient": "top", "labels": false, "ticks": false, "domain": false, "grid": false, "title": "DenseNet201_Accuracy", "titleFontSize": 10.5, "titlePadding": 6, "titleX": 501}},
"x2": {"field": "ei"},
"y": {"field": "v", "type": "quantitative", "scale": {"type": "linear", "domain": [0, 1], "range": [327.3, 0], "nice": false, "zero": false}, "axis": null},
"y2": {"field": "ev"}
}
},
{
"data": {"name": "accMax"},
"mark": {"type": "point", "filled": true, "size": 40, "opacity": 1},
"encoding": {
"x": {"field": "i", "type": "quantitative", "scale": {"type": "linear", "domain": [-0.5, 416.5], "range": [0, 1010], "nice": false, "zero": false},
 "axis": {"orient": "bottom", "offset": -402.7, "values": [-0.5, 61.5, 189.5, 266.5, 343.5, 416.5], "labels": false, "ticks": true, "tickSize": 33, "tickColor": "#D9D9D9", "tickWidth": 1, "domain": false, "grid": false, "title": null}},
"y": {"field": "v", "type": "quantitative", "scale": {"type": "linear", "domain": [0, 1], "range": [327.3, 0], "nice": false, "zero": false}, "axis": null},
"color": {"field": "s", "type": "nominal", "scale": {"domain": ["Accuray_Max", "Val_Accuracy_Max"], "range": ["#4472C4", "#ED7D31"]},
 "legend": {"orient": "none", "legendX": 496, "legendY": 361, "direction": "horizontal", "columns": 2, "symbolType": "circle", "symbolSize": 30, "columnPadding": 16, "labelOffset": 8}}
}
},
{
"data": {"name": "accMax"},
"transform": [{"filter": "datum.t == '92.327%' || datum.t == '90.146%'"}],
"mark": {"type": "rect", "color": "#FFFF00", "xOffset": -19.5, "x2Offset": 19.5, "yOffset": -6.5, "y2Offset": 6.5},
"encoding": {
"x": {"field": "li", "type": "quantitative", "scale": {"type": "linear", "domain": [-0.5, 416.5], "range": [0, 1010], "nice": false, "zero": false}, "axis": null},
"x2": {"field": "li"},
"y": {"field": "lv", "type": "quantitative", "scale": {"type": "linear", "domain": [0, 1], "range": [327.3, 0], "nice": false, "zero": false}, "axis": null},
"y2": {"field": "lv"}
}
},
{
"data": {"name": "accMax"},
"mark": {"type": "text", "fontSize": 8.5, "baseline": "middle", "align": "center"},
"encoding": {
"x": {"field": "li", "type": "quantitative", "scale": {"type": "linear", "domain": [-0.5, 416.5], "range": [0, 1010], "nice": false, "zero": false}, "axis": null},
"y": {"field": "lv", "type": "quantitative", "scale": {"type": "linear", "domain": [0, 1], "range": [327.3, 0], "nice": false, "zero": false}, "axis": null},
"text": {"field": "t"},
"color": {"condition": {"test": "datum.s == 'Accuray_Max'", "value": "#4472C4"}, "value": "#ED7D31"}
}
},
{
"data": {"name": "lossBounds"},
"mark": {"type": "rule", "color": "#404040", "strokeWidth": 1.3, "strokeDash": [4, 2, 1, 2]},
"encoding": {
"x": {"field": "b", "type": "quantitative", "scale": {"type": "linear", "domain": [-0.5, 420.5], "range": [11, 1010], "nice": false, "zero": false},
 "axis": {"orient": "bottom", "offset": 0, "values": [30.5, 125.5, 228, 305, 382], "labelExpr": "datum.value < 62 ? 'Fold-1' : datum.value < 190 ? 'Fold-2' : datum.value < 267 ? 'Fold-3' : datum.value < 344 ? 'Fold-4' : 'Fold-5'", "ticks": false, "domain": false, "grid": false, "labelPadding": 21, "labelFontSize": 7.5, "labelAngle": 0, "labelBaseline": "top", "labelOverlap": false, "labelBound": false, "labelFlush": false, "title": null}},
"y": {"datum": 6.1, "type": "quantitative", "scale": {"type": "linear", "domain": [0, 6], "range": [730, 398.8], "nice": false, "zero": false},
 "axis": {"orient": "left", "offset": -11, "values": [0.2,0.4,0.6,0.8,1.2,1.4,1.6,1.8,2.2,2.4,2.6,2.8,3.2,3.4,3.6,3.8,4.2,4.4,4.6,4.8,5.2,5.4,5.6,5.8], "grid": true, "gridColor": "#EFEFEF", "gridWidth": 1, "labels": false, "ticks": false, "domain": false, "title": null}},
"y2": {"datum": -0.05}
}
},
{
"data": {"name": "loss"},
"transform": [{"fold": ["l", "vl"], "as": ["s", "v"]}],
"mark": {"type": "line", "strokeWidth": 2},
"encoding": {
"x": {"field": "i", "type": "quantitative", "scale": {"type": "linear", "domain": [-0.5, 420.5], "range": [11, 1010], "nice": false, "zero": false},
 "axis": {"orient": "bottom", "offset": 0, "values": [0,4,8,12,16,20,24,28,32,36,40,44,48,52,56,60,64,68,72,76,80,84,88,92,96,100,104,108,112,116,120,124,128,132,136,140,144,148,152,156,160,164,168,172,176,180,184,188,192,196,200,204,208,212,216,220,224,228,232,236,240,244,248,252,256,260,264,268,272,276,280,284,288,292,296,300,304,308,312,316,320,324,328,332,336,340,344,348,352,356,360,364,368,372,376,380,384,388,392,396,400,404,408,412,416,420], "labelExpr": "datum.value >= 344 ? datum.value - 344 : datum.value >= 267 ? datum.value - 267 : datum.value >= 190 ? datum.value - 190 : datum.value >= 62 ? datum.value - 62 : datum.value", "labelAngle": 270, "labelFontSize": 7, "labelPadding": 2, "ticks": false, "domain": true, "domainColor": "#D9D9D9", "grid": false, "labelOverlap": false, "labelBound": false, "labelFlush": false, "title": null}},
"y": {"field": "v", "type": "quantitative", "scale": {"type": "linear", "domain": [0, 6], "range": [730, 398.8], "nice": false, "zero": false},
 "axis": {"orient": "left", "offset": -11, "values": [0,1,2,3,4,5,6], "grid": true, "gridColor": "#D9D9D9", "ticks": false, "domain": false, "labelFontSize": 7.5, "labelPadding": 7, "title": "Log Loss", "titleFontSize": 7.5, "titlePadding": 2}},
"color": {"field": "s", "type": "nominal", "scale": {"domain": ["l", "vl"], "range": ["#4472C4", "#ED7D31"]},
 "legend": {"orient": "none", "legendX": 400, "legendY": 762, "direction": "horizontal", "columns": 2, "symbolType": "stroke", "symbolSize": 225, "symbolStrokeWidth": 2, "columnPadding": 10, "labelOffset": 2, "labelExpr": "datum.label == 'l' ? 'Loss' : 'Val_Loss'"}},
"detail": {"field": "f", "type": "nominal"}
}
},
{
"data": {"name": "lossMin"},
"mark": {"type": "rule", "color": "#A6A6A6", "strokeWidth": 0.8},
"encoding": {
"x": {"field": "i", "type": "quantitative", "scale": {"type": "linear", "domain": [-0.5, 420.5], "range": [11, 1010], "nice": false, "zero": false},
 "axis": {"orient": "top", "offset": -398.8, "labels": false, "ticks": false, "domain": false, "grid": false, "title": "DenseNet201_Loss", "titleFontSize": 10.5, "titlePadding": 3, "titleX": 501}},
"x2": {"field": "ei"},
"y": {"field": "v", "type": "quantitative", "scale": {"type": "linear", "domain": [0, 6], "range": [730, 398.8], "nice": false, "zero": false}, "axis": null},
"y2": {"field": "ev"}
}
},
{
"data": {"name": "lossMin"},
"mark": {"type": "point", "filled": true, "size": 40, "opacity": 1},
"encoding": {
"x": {"field": "i", "type": "quantitative", "scale": {"type": "linear", "domain": [-0.5, 420.5], "range": [11, 1010], "nice": false, "zero": false},
 "axis": {"orient": "bottom", "offset": 0, "values": [-0.5, 61.5, 189.5, 266.5, 343.5, 420.5], "labels": false, "ticks": true, "tickSize": 30, "tickColor": "#D9D9D9", "tickWidth": 1, "domain": false, "grid": false, "title": null}},
"y": {"field": "v", "type": "quantitative", "scale": {"type": "linear", "domain": [0, 6], "range": [730, 398.8], "nice": false, "zero": false}, "axis": null},
"color": {"field": "s", "type": "nominal", "scale": {"domain": ["Loss_Min", "Val_Loss_Min"], "range": ["#4472C4", "#ED7D31"]},
 "legend": {"orient": "none", "legendX": 495, "legendY": 762, "direction": "horizontal", "columns": 2, "symbolType": "circle", "symbolSize": 30, "columnPadding": 16, "labelOffset": 8}}
}
},
{
"data": {"name": "lossMin"},
"mark": {"type": "text", "fontSize": 8.5, "baseline": "middle", "align": "center"},
"encoding": {
"x": {"field": "li", "type": "quantitative", "scale": {"type": "linear", "domain": [-0.5, 420.5], "range": [11, 1010], "nice": false, "zero": false}, "axis": null},
"y": {"field": "lv", "type": "quantitative", "scale": {"type": "linear", "domain": [0, 6], "range": [730, 398.8], "nice": false, "zero": false}, "axis": null},
"text": {"field": "t"},
"color": {"condition": {"test": "datum.s == 'Loss_Min'", "value": "#4472C4"}, "value": "#ED7D31"}
}
}
]
}
